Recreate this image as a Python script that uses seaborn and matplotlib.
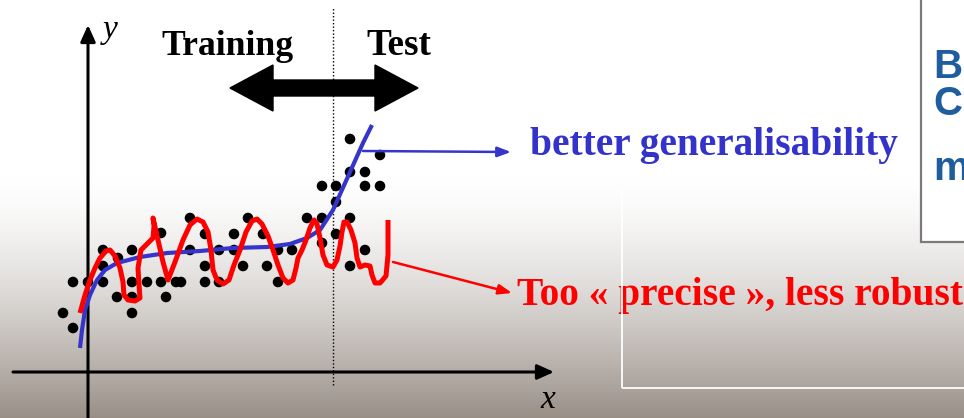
import numpy as np
import pandas as pd
import matplotlib
matplotlib.use("Agg")
import matplotlib.pyplot as plt
from matplotlib.patches import Polygon, Rectangle
import seaborn as sns

# ---------------- data (pixel-like units, origin at axes crossing) ----------------
dots_x = [262, 292, 262, 277, 277, 292, 234, 248, 248, 219, 234, 262, 248, 234, 277, 262,
          102, 160, 73, 117, 146, 175, 15, 44, 102, 131, 146, 190, 204, 30, 15, 117, 155, 179,
          -15, 0, 15, 44, 59, 73, 88, 93, 117, 131, 190, 29, 44, 78, -25, 44, -15]
dots_y = [233, 217, 200, 200, 186, 186, 186, 186, 170, 154, 154, 154, 138, 129, 122, 106,
          154, 154, 139, 138, 138, 138, 122, 122, 122, 122, 122, 122, 122, 114, 106, 106, 106, 106,
          90, 90, 90, 90, 90, 90, 90, 90, 90, 90, 90, 75, 75, 75, 59, 59, 44]

blue_x = [-8, -6, -3, 2, 9, 17, 29, 52, 79, 112, 145, 179, 202, 219, 232, 245, 262, 275, 284]
blue_y = [24, 42, 62, 77, 92, 102, 109, 115, 119, 121, 124, 125, 128, 134, 142, 162, 200, 229, 247]

red_x = [-8, -3, 2, 7, 12, 18, 22, 27, 32, 35, 36, 40, 47, 52, 51, 50, 53, 60, 65, 66, 65,
         70, 75, 80, 87, 95, 102, 109, 115, 120, 123, 125, 129, 135, 141, 146, 152, 158, 164,
         169, 174, 180, 185, 190, 195, 200, 205, 208, 210, 214, 218, 222, 226, 229, 232, 235,
         239, 245, 249, 252, 254, 256, 259, 263, 267, 269, 272, 277, 282, 284, 287, 292, 298,
         300, 300]
red_y = [59, 77, 92, 104, 114, 121, 122, 116, 104, 90, 77, 72, 71, 74, 87, 104, 122, 129, 134,
         146, 154, 132, 110, 92, 110, 132, 147, 153, 150, 140, 122, 102, 92, 88, 92, 107, 122,
         140, 151, 153, 148, 136, 122, 107, 94, 89, 92, 104, 114, 122, 132, 144, 152, 148, 134,
         117, 107, 105, 112, 126, 140, 150, 150, 142, 129, 114, 105, 107, 106, 97, 89, 89, 96,
         117, 152]

region_labels = ["Training", "Test"]
blue_label = "better generalisability"
red_label = "Too « precise », less robust"
box_letters = ["B", "C", "m"]

# ---------------- figure ----------------
W, H = 964, 418
fig = plt.figure(figsize=(W / 100, H / 100), dpi=100)
ax = fig.add_axes([0, 0, 1, 1])
X0, X1, Y0, Y1 = -88, 876, -46, 372
ax.set_xlim(X0, X1)
ax.set_ylim(Y0, Y1)
ax.axis("off")

# background gradient: white top, warm grey bottom
rows = np.arange(H)
t = np.clip((rows - 175) / (H - 175), 0, 1) ** 1.5
top = np.array([255, 255, 255]) / 255
bot = np.array([152, 142, 134]) / 255
grad = top[None, :] * (1 - t[:, None]) + bot[None, :] * t[:, None]
img = np.repeat(grad[:, None, :], 8, axis=1)
ax.imshow(img, extent=[X0, X1, Y0, Y1], aspect="auto", origin="upper", zorder=0)

# thin white frame (behind the grey box)
ax.add_patch(Rectangle((534, -16), 400, 216, facecolor="none", edgecolor="white",
                       linewidth=1.3, zorder=8))

# right grey box with partial text
ax.add_patch(Rectangle((833, 130), 100, 300, facecolor="white", edgecolor="#7a7a7a",
                       linewidth=1.6, zorder=9))
for letter, yb in zip(box_letters, [294, 257, 192]):
    ax.text(845, yb, letter, fontsize=29, fontweight="bold", color="#1f5e9e",
            family="Liberation Sans", va="baseline", ha="left", zorder=10)

# axes arrows
arrow_kw = dict(arrowstyle="-|>,head_length=1.0,head_width=0.45", color="black", lw=2.2,
                shrinkA=0, shrinkB=0)
ax.annotate("", xy=(0, 347), xytext=(0, -50), arrowprops=arrow_kw, zorder=3)
ax.annotate("", xy=(466, 0), xytext=(-75, 0), arrowprops=arrow_kw, zorder=3)
ax.text(15, 334, "y", fontsize=24, fontstyle="italic", family="Liberation Serif",
        va="baseline", ha="left", zorder=3)
ax.text(452, -36, "x", fontsize=24, fontstyle="italic", family="Liberation Serif",
        va="baseline", ha="left", zorder=3)

# dotted train/test separator
ax.plot([245, 245], [-13, 364], linestyle=(0, (1, 1.5)), color="black", lw=1.0, zorder=3)

# double-headed arrow
xl, xr, yc, hw, hh, hl = 142, 330, 284, 8, 23, 43
verts = [(xl, yc), (xl + hl, yc + hh), (xl + hl, yc + hw), (xr - hl, yc + hw), (xr - hl, yc + hh),
         (xr, yc), (xr - hl, yc - hh), (xr - hl, yc - hw), (xl + hl, yc - hw), (xl + hl, yc - hh)]
ax.add_patch(Polygon(verts, closed=True, facecolor="black", edgecolor="black", zorder=3))

# data: dots and curves via seaborn
dots = pd.DataFrame({"x": dots_x, "y": dots_y})
sns.scatterplot(data=dots, x="x", y="y", ax=ax, color="black", s=58, edgecolor="none",
                zorder=4, legend=False)
sns.lineplot(x=blue_x, y=blue_y, ax=ax, sort=False, estimator=None, color="#3535cc",
             lw=3.0, zorder=5, solid_capstyle="butt")
sns.lineplot(x=red_x, y=red_y, ax=ax, sort=False, estimator=None, color="#ff0000",
             lw=3.6, zorder=6, solid_joinstyle="round", solid_capstyle="butt")
ax.set_xlim(X0, X1)
ax.set_ylim(Y0, Y1)
ax.axis("off")

# annotation arrows
ax.annotate("", xy=(423, 220), xytext=(275, 221),
            arrowprops=dict(arrowstyle="-|>,head_length=0.8,head_width=0.3", color="#3535cc",
                            lw=1.8, shrinkA=0, shrinkB=0), zorder=5)
ax.annotate("", xy=(424, 79), xytext=(305, 110),
            arrowprops=dict(arrowstyle="-|>,head_length=0.8,head_width=0.3", color="#ff0000",
                            lw=1.8, shrinkA=0, shrinkB=0), zorder=6)

# texts, fitted to widths
fig.canvas.draw()
renderer = fig.canvas.get_renderer()


def fit(txt, target):
    bb = txt.get_window_extent(renderer=renderer)
    txt.set_fontsize(txt.get_fontsize() * target / bb.width)


serif = "Liberation Serif"
t1 = ax.text(140, 317, region_labels[0], fontsize=24, fontweight="bold", family=serif,
             ha="center", va="baseline", zorder=7)
t2 = ax.text(311, 317, region_labels[1], fontsize=24, fontweight="bold", family=serif,
             ha="center", va="baseline", zorder=7)
t3 = ax.text(442, 217, blue_label, fontsize=27, fontweight="bold", family=serif,
             color="#3333cc", ha="left", va="baseline", zorder=7)
t4 = ax.text(429, 67, red_label, fontsize=27, fontweight="bold", family=serif,
             color="#ff0000", ha="left", va="baseline", zorder=7)
fit(t1, 132)
fit(t2, 65)
fit(t3, 368)
fit(t4, 444)

fig.savefig("out.png", dpi=100)
